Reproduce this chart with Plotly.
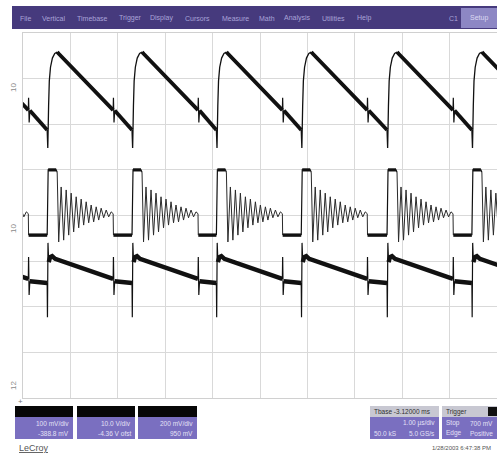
import plotly.graph_objects as go

# ---------------- data (x in divisions = 1.00 us/div, y in divisions) ----------------
cycle_starts = [-1.28, 0.51, 2.30, 4.08, 5.87, 7.68, 9.47]
period = 1.79

# Trace 1: sawtooth (fast rising edge, then linear ramp down)
c1_edge_t = [0.0, 0.013, 0.030, 0.045, 0.070, 0.110, 0.160, 0.211]
c1_edge_v = [1.875, 1.48, 2.40, 2.95, 3.25, 3.45, 3.55, 3.585]
c1_ramp_t = [0.211, 0.25, 1.392]
c1_ramp_v = [3.585, 3.54, 2.31]
c1_spike_t = [1.392, 1.398, 1.410, 1.425]
c1_spike_v = [2.31, 2.58, 2.04, 2.30]
c1_ramp2_t = [1.425]
c1_ramp2_v = [2.30]
c1_end_v = 1.875

# Trace 2: pulse followed by damped ringing, then flat low level
c2_pulse_t = [0.0, 0.011, 0.021, 0.19, 0.211]
c2_pulse_v = [-0.43, 0.95, 1.0, 1.0, 0.95]
c2_top_t = [0.021, 0.19]
c2_top_v = [1.0, 1.0]
c2_ring_t = [0.211, 0.243, 0.295, 0.348, 0.401, 0.454, 0.506, 0.559, 0.612, 0.665,
             0.717, 0.770, 0.823, 0.876, 0.928, 0.981, 1.034, 1.087, 1.139, 1.192,
             1.245, 1.298, 1.350, 1.392, 1.398]
c2_ring_v = [0.95, -0.58, 0.625, -0.54, 0.56, -0.43, 0.49, -0.36, 0.41, -0.27,
             0.36, -0.21, 0.30, -0.16, 0.23, -0.14, 0.19, -0.10, 0.16, -0.05,
             0.12, -0.03, 0.08, 0.04, -0.43]
c2_flat_t = [1.398]
c2_flat_v = [-0.43]
c2_end_v = -0.43

# Trace 3: lower waveform
c3_spike_t = [0.0, 0.006, 0.017, 0.032]
c3_spike_v = [-1.48, -2.23, -0.60, -1.02]
c3_body_t = [0.032, 0.063, 0.105, 0.169, 1.392]
c3_body_v = [-1.02, -0.91, -0.89, -0.95, -1.39]
c3_spike2_t = [1.392, 1.398, 1.409, 1.424]
c3_spike2_v = [-1.39, -0.91, -1.74, -1.44]
c3_tail_t = [1.424]
c3_tail_v = [-1.44]
c3_end_v = -1.48

# ---------------- text ----------------
menu_items = ["File", "Vertical", "Timebase", "Trigger", "Display", "Cursors",
              "Measure", "Math", "Analysis", "Utilities", "Help"]
menu_left_px = [18, 40, 75, 117, 148, 183, 220, 257, 282, 320, 355]
chan_line1 = ["100 mV/div", "10.0 V/div", "200 mV/div"]
chan_line2 = ["-388.8 mV", "-4.36 V ofst", "950 mV"]
chan_labels = ["10", "10", "12"]


def build(t_list, v_list, end_v=None):
    xs, ys = [], []
    for i, s in enumerate(cycle_starts):
        nxt = cycle_starts[i + 1] if i + 1 < len(cycle_starts) else s + period
        for t, v in zip(t_list, v_list):
            xs.append(s + t)
            ys.append(v)
        if end_v is not None:
            xs.append(nxt)
            ys.append(end_v)
        xs.append(None)
        ys.append(None)
    return xs, ys


fig = go.Figure()
ink = "#111111"


def add(xy, w, color=ink):
    fig.add_trace(go.Scatter(x=xy[0], y=xy[1], mode="lines",
                             line=dict(color=color, width=w), hoverinfo="skip",
                             showlegend=False))


# trace 1
add(build(c1_ramp_t, c1_ramp_v), 3.8)
add(build(c1_ramp2_t, c1_ramp2_v, c1_end_v), 3.8)
add(build(c1_spike_t, c1_spike_v), 1.2)
add(build(c1_edge_t, c1_edge_v), 1.3)
# trace 2
add(build(c2_ring_t, c2_ring_v), 1.0, "#2a2a2a")
add(build(c2_pulse_t, c2_pulse_v), 1.2)
add(build(c2_top_t, c2_top_v), 3.2)
add(build(c2_flat_t, c2_flat_v, c2_end_v), 3.4)
# trace 3
add(build(c3_spike_t, c3_spike_v), 1.2)
add(build(c3_body_t, c3_body_v), 4.4)
add(build(c3_spike2_t, c3_spike2_v), 1.2)
add(build(c3_tail_t, c3_tail_v, c3_end_v), 4.4)

# ---------------- layout helpers ----------------
L, R, T, B = 23, 497, 33, 398
W_, H_ = R - L, B - T


def px(x):
    return (x - L) / W_


def py(y):
    return (B - y) / H_


shapes = []
ann = []


def rect(x0, y0, x1, y1, color):
    shapes.append(dict(type="rect", xref="paper", yref="paper", x0=px(x0), x1=px(x1),
                       y0=py(y1), y1=py(y0), fillcolor=color, line=dict(width=0),
                       layer="above"))


def text(x, y, s, size=7, color="#ffffff", anchor="left", **kw):
    ann.append(dict(x=px(x), y=py(y), xref="paper", yref="paper", text=s,
                    showarrow=False, xanchor=anchor, yanchor="middle",
                    font=dict(size=size, color=color, family="Liberation Sans, Arial"),
                    **kw))


# menu bar
rect(12, 6, 497, 29, "#463a7d")
rect(461, 8, 497, 28, "#8d87c4")
for s, x in zip(menu_items, menu_left_px):
    text(x, 18, s, 7, "#a9a3d8")
text(447, 18, "C1", 7, "#a9a3d8")
text(479, 18, "Setup", 7, "#dcd9f2", anchor="center")

# channel labels on left
for s, y in zip(chan_labels, [88, 229, 386]):
    text(13, y, s, 8, "#8a8a8a", anchor="center", textangle=-90)
text(20, 401, "+", 8, "#777777", anchor="center")

# channel boxes
for i, (x0, x1) in enumerate([(15, 73), (77, 135), (138, 197)]):
    rect(x0, 406, x1, 417, "#070707")
    rect(x0, 417, x1, 439, "#7a6fc0")
    text(x1 - 2, 423, chan_line1[i], 6.5, "#e4e1f6", anchor="right")
    text(x1 - 2, 433, chan_line2[i], 6.5, "#e4e1f6", anchor="right")

# timebase box
rect(370, 406, 439, 417, "#c8c8d2")
rect(370, 417, 439, 439, "#7a6fc0")
text(372, 411.5, "Tbase -3.12000 ms", 6.5, "#303030")
text(437, 423, "1.00 µs/div", 6.5, "#e4e1f6", anchor="right")
text(372, 433, "50.0 kS", 6.5, "#e4e1f6")
text(437, 433, "5.0 GS/s", 6.5, "#e4e1f6", anchor="right")

# trigger box
rect(442, 406, 497, 417, "#c8c8d2")
rect(488, 407, 497, 416, "#111111")
rect(442, 417, 497, 439, "#7a6fc0")
text(444, 411.5, "Trigger", 6.5, "#303030")
text(444, 423, "Stop", 6.5, "#e4e1f6")
text(495, 423, "700 mV", 6.5, "#e4e1f6", anchor="right")
text(444, 433, "Edge", 6.5, "#e4e1f6")
text(495, 433, "Positive", 6.5, "#e4e1f6", anchor="right")

# footer
text(17, 448, "<u>LeCroy</u>", 9, "#555555")
text(493, 448, "1/28/2003 6:47:38 PM", 6, "#555555", anchor="right")

fig.update_layout(
    width=497, height=457,
    margin=dict(l=L, r=497 - R, t=T, b=457 - B),
    paper_bgcolor="white", plot_bgcolor="white",
    shapes=shapes, annotations=ann,
    xaxis=dict(range=[0, 10], dtick=1, tick0=0, showticklabels=False, ticks="",
               showgrid=True, gridcolor="#d9d9d9", gridwidth=1, zeroline=False,
               showline=True, linecolor="#d0d0d0", mirror=True, fixedrange=True),
    yaxis=dict(range=[-4, 4], dtick=1, tick0=0, showticklabels=False, ticks="",
               showgrid=True, gridcolor="#d9d9d9", gridwidth=1, zeroline=False,
               showline=True, linecolor="#d0d0d0", mirror=True, fixedrange=True),
)

fig.write_html("out.html", config={"displayModeBar": False},
               post_script="document.body.style.margin='0';document.body.style.overflow='hidden';")
